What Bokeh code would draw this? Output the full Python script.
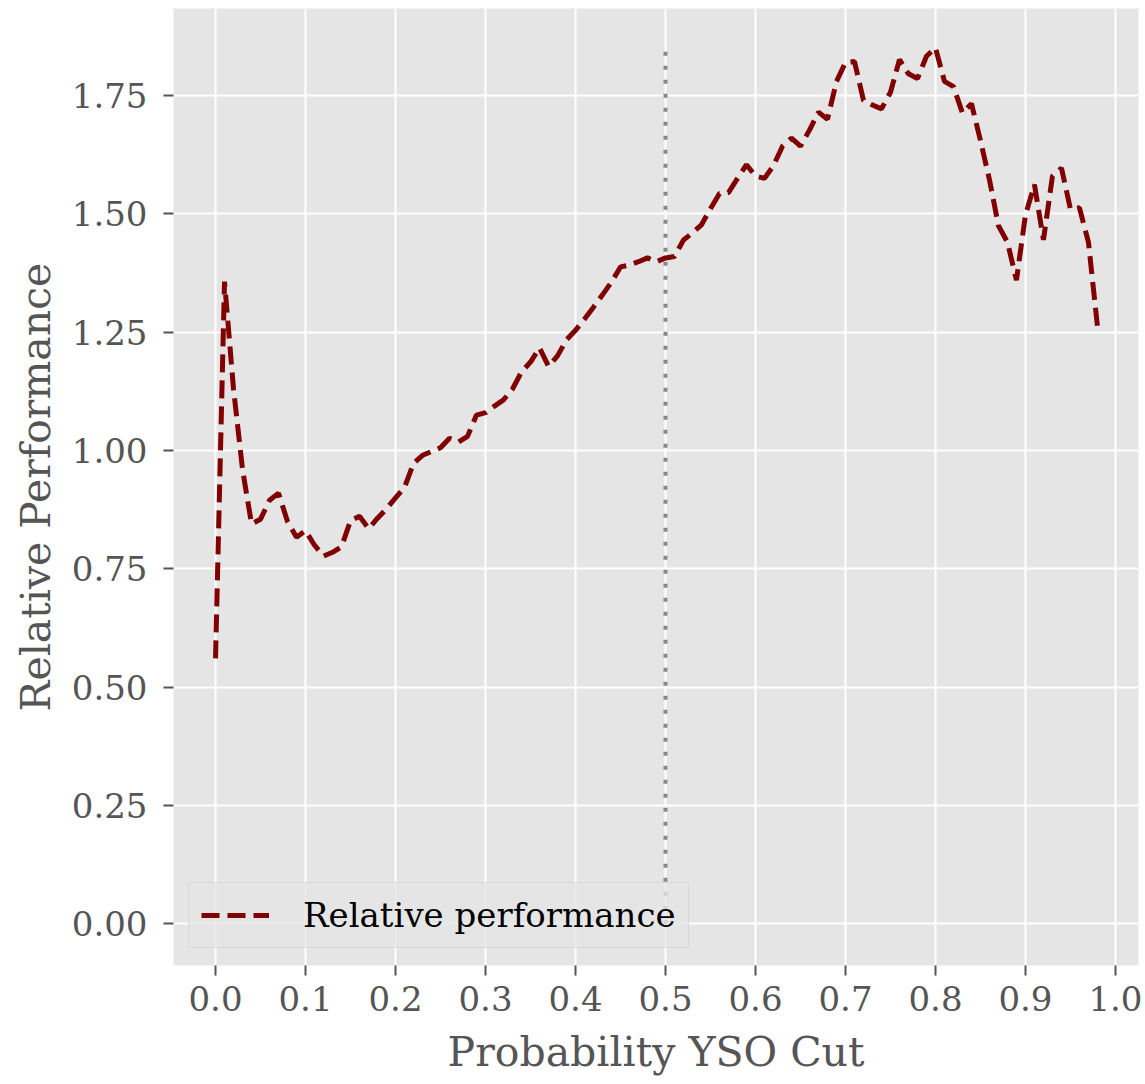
from bokeh.plotting import figure
from bokeh.models import (ColumnDataSource, FixedTicker, PrintfTickFormatter,
                          Range1d, Legend, LegendItem)
from bokeh.embed import file_html
from bokeh.resources import INLINE

# Probability cut applied to the YSO classifier output
prob_cut = [0.00, 0.01, 0.02, 0.03, 0.04, 0.05, 0.06, 0.07, 0.08, 0.09,
            0.10, 0.11, 0.12, 0.13, 0.14, 0.15, 0.16, 0.17, 0.18, 0.19,
            0.20, 0.21, 0.22, 0.23, 0.24, 0.25, 0.26, 0.27, 0.28, 0.29,
            0.30, 0.31, 0.32, 0.33, 0.34, 0.35, 0.36, 0.37, 0.38, 0.39,
            0.40, 0.41, 0.42, 0.43, 0.44, 0.45, 0.46, 0.47, 0.48, 0.49,
            0.50, 0.51, 0.52, 0.53, 0.54, 0.55, 0.56, 0.57, 0.58, 0.59,
            0.60, 0.61, 0.62, 0.63, 0.64, 0.65, 0.66, 0.67, 0.68, 0.69,
            0.70, 0.71, 0.72, 0.73, 0.74, 0.75, 0.76, 0.77, 0.78, 0.79,
            0.80, 0.81, 0.82, 0.83, 0.84, 0.85, 0.86, 0.87, 0.88, 0.89,
            0.90, 0.91, 0.92, 0.93, 0.94, 0.95, 0.96, 0.97, 0.98]

# Relative performance at each cut
rel_perf = [0.561, 1.357, 1.130, 0.960, 0.845, 0.855, 0.895, 0.910, 0.850, 0.817,
            0.831, 0.800, 0.777, 0.785, 0.797, 0.852, 0.861, 0.835, 0.857, 0.877,
            0.900, 0.922, 0.973, 0.990, 0.998, 1.006, 1.026, 1.018, 1.030, 1.075,
            1.080, 1.094, 1.107, 1.130, 1.166, 1.187, 1.217, 1.178, 1.200, 1.234,
            1.254, 1.278, 1.303, 1.329, 1.356, 1.388, 1.392, 1.399, 1.407, 1.399,
            1.407, 1.410, 1.445, 1.460, 1.477, 1.511, 1.543, 1.545, 1.575, 1.604,
            1.580, 1.575, 1.602, 1.643, 1.660, 1.643, 1.677, 1.715, 1.700, 1.780,
            1.820, 1.822, 1.740, 1.730, 1.722, 1.757, 1.826, 1.796, 1.786, 1.833,
            1.851, 1.780, 1.769, 1.713, 1.733, 1.655, 1.572, 1.475, 1.440, 1.360,
            1.498, 1.562, 1.445, 1.580, 1.597, 1.510, 1.513, 1.440, 1.262]

# Marker for the 0.5 threshold
threshold_x = [0.5]
threshold_y0 = [0.0]
threshold_y1 = [max(rel_perf)]

x_ticks = [0.0, 0.1, 0.2, 0.3, 0.4, 0.5, 0.6, 0.7, 0.8, 0.9, 1.0]
y_ticks = [0.0, 0.25, 0.5, 0.75, 1.0, 1.25, 1.5, 1.75]

FONT = "DejaVu Serif"
LABEL_GREY = "#555555"

p = figure(width=1145, height=1084, output_backend="svg", toolbar_location=None,
           x_range=Range1d(-0.0467, 1.0256), y_range=Range1d(-0.088, 1.934),
           min_border_left=173, min_border_right=7, min_border_top=8,
           min_border_bottom=119)

p.background_fill_color = "#E5E5E5"
p.border_fill_color = "white"
p.outline_line_color = None

for g in (p.xgrid, p.ygrid):
    g.grid_line_color = "white"
    g.grid_line_width = 2

p.xaxis.ticker = FixedTicker(ticks=x_ticks)
p.yaxis.ticker = FixedTicker(ticks=y_ticks)
p.xaxis.formatter = PrintfTickFormatter(format="%.1f")
p.yaxis.formatter = PrintfTickFormatter(format="%.2f")

for ax in (p.xaxis, p.yaxis):
    ax.axis_line_color = None
    ax.major_tick_line_color = LABEL_GREY
    ax.major_tick_line_width = 2
    ax.major_tick_in = 0
    ax.major_tick_out = 10
    ax.minor_tick_line_color = None
    ax.major_label_text_font = FONT
    ax.major_label_text_font_size = "34px"
    ax.major_label_text_color = LABEL_GREY
    ax.axis_label_text_font = FONT
    ax.axis_label_text_font_size = "41px"
    ax.axis_label_text_font_style = "normal"
    ax.axis_label_text_color = LABEL_GREY

p.xaxis.axis_label = "Probability YSO Cut"
p.yaxis.axis_label = "Relative Performance"
p.xaxis.major_label_standoff = 10
p.yaxis.major_label_standoff = 16
p.xaxis.axis_label_standoff = 14
p.yaxis.axis_label_standoff = 9

src = ColumnDataSource(data=dict(x=prob_cut, y=rel_perf))
perf_line = p.line("x", "y", source=src, line_color="#800000", line_width=5,
                   line_dash="18 8")

p.segment(x0=threshold_x, y0=threshold_y0, x1=threshold_x, y1=threshold_y1,
          line_color="#888888", line_width=4, line_dash="4 10")

legend = Legend(items=[LegendItem(label="Relative performance", renderers=[perf_line])],
                location=(15, 17), margin=0, padding=12,
                glyph_width=68, glyph_height=34, label_height=34,
                label_standoff=34, spacing=0,
                label_text_font=FONT, label_text_font_size="34px",
                label_text_color="black",
                background_fill_color="#E5E5E5", background_fill_alpha=0.8,
                border_line_color="#CCCCCC", border_line_width=1.5)
p.add_layout(legend, "center")

open("out.html", "w").write(file_html(p, INLINE))
